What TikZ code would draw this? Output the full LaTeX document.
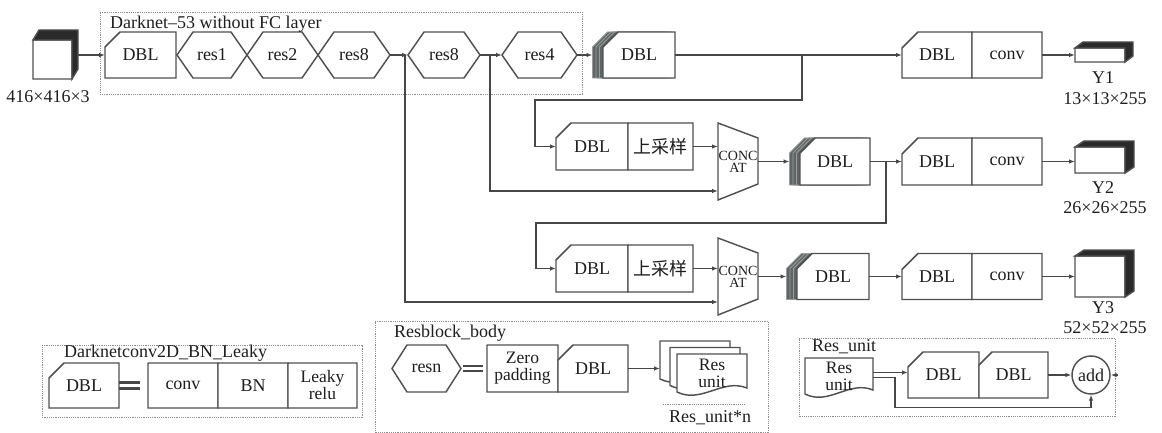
\documentclass[tikz,border=0pt]{standalone}
\usepackage{fontspec}
\setmainfont{Liberation Serif}
\newfontfamily\cjk{Noto Sans CJK SC}
\usetikzlibrary{arrows.meta,calc,backgrounds}
\definecolor{lc}{HTML}{474747}
\definecolor{bc}{HTML}{505050}
\definecolor{txt}{HTML}{1E1E1E}
\definecolor{fc}{HTML}{8C8C8C}
\definecolor{cubec}{HTML}{2A2A2A}
\definecolor{sc}{HTML}{5E6666}
\tikzset{
 ln/.style={draw=lc, line width=1.1pt},
 arr/.style={ln, -{Latex[length=6pt,width=4.5pt]}},
 boxln/.style={draw=bc, line width=1.45pt, line join=miter},
 blk/.style={minimum width=#1, minimum height=46pt, inner sep=0pt, outer sep=0pt, text=txt, align=center},
 tall/.style={minimum height=#1},
 dframe/.style={draw=fc, line width=0.9pt, dash pattern=on 1.2pt off 1pt},
 lbl/.style={inner sep=0pt, text=txt},
 eqbar/.style={draw=lc, line width=2.4pt},
 two/.style={font=\fontsize{17.5}{17}\selectfont},
 cc/.style={font=\fontsize{14}{12}\selectfont},
}
\newcommand\chamf[2]{\begin{scope}[on background layer]\draw[boxln, fill=white] ($(#1.north west)+(#2,0)$) -- (#1.north east) -- (#1.south east) -- (#1.south west) -- ($(#1.north west)+(0,#2)$) -- cycle;\end{scope}}
\newcommand\rbox[1]{\chamf{#1}{0.5}}
\newcommand\hexa[2]{\begin{scope}[on background layer]\draw[boxln, fill=white] (#1.west) -- ($(#1.north west)+(#2,0)$) -- ($(#1.north east)+(-#2,0)$) -- (#1.east) -- ($(#1.south east)+(-#2,0)$) -- ($(#1.south west)+(#2,0)$) -- cycle;\end{scope}}
\newcommand\stk[2]{\begin{scope}[on background layer]
 \foreach \s in {10.5,7,3.5}{\draw[draw=lc!55, line width=0.8pt, fill=sc] ($(#1.north west)+(#2-\s,0)$) -- ($(#1.north east)+(-\s,0)$) -- ($(#1.south east)+(-\s,0)$) -- ($(#1.south west)+(-\s,0)$) -- ($(#1.north west)+(-\s,#2)$) -- cycle;}
 \draw[boxln, fill=white] ($(#1.north west)+(#2,0)$) -- (#1.north east) -- (#1.south east) -- (#1.south west) -- ($(#1.north west)+(0,#2)$) -- cycle;
 \end{scope}}
\newcommand\concat[1]{\begin{scope}[on background layer]\draw[boxln, fill=white] (#1.north west) -- ($(#1.north east)+(0,15)$) -- ($(#1.south east)+(0,-16)$) -- (#1.south west) -- cycle;\end{scope}}
\newcommand\cubeit[3]{\begin{scope}[on background layer]
 \draw[boxln, fill=white] ($(#1.north west)+(0.5,0)$) -- (#1.north east) -- (#1.south east) -- (#1.south west) -- ($(#1.north west)+(0,0.5)$) -- cycle;
 \draw[boxln, fill=cubec] (#1.north west) -- ++(#2,-#3) -- ($(#1.north east)+(#2,-#3)$) -- ($(#1.south east)+(#2,-#3)$) -- (#1.south east) -- (#1.north east) -- cycle;
 \end{scope}}
\newcommand\docit[1]{\begin{scope}[on background layer]\draw[boxln, fill=white] (#1.north west) -- (#1.north east) -- ($(#1.south east)+(0,-4)$) .. controls ($(#1.south east)!0.35!(#1.south west)+(0,-14)$) and ($(#1.south east)!0.65!(#1.south west)+(0,12)$) .. (#1.south west) -- cycle;\end{scope}}
\begin{document}
\begin{tikzpicture}[x=1pt,y=-1pt, font=\fontsize{18}{19}\selectfont]
\useasboundingbox (0,0) rectangle (1162,433);
% ---------- frames
\draw[dframe] (100,12) -- (582,12) -- (582,94) -- (100,94) -- cycle;
\node[lbl, anchor=west] (f1l) at (110,24) {Darknet–53 without FC layer};
% ---------- row 1
\node[blk=39pt, tall=39pt] (cube) at (52.5,59.5) {};
\cubeit{cube}{6}{10}
\node[lbl] (cubel) at (48,97) {416×416×3};
\node[blk=71pt] (d0) at (140.5,55) {DBL}; \chamf{d0}{15}
\node[blk=70pt] (r1) at (212,55) {res1}; \hexa{r1}{16}
\node[blk=71pt] (r2) at (282.5,55) {res2}; \hexa{r2}{16}
\node[blk=72pt] (r3) at (354,55) {res8}; \hexa{r3}{16}
\node[blk=72pt] (r4) at (444,55) {res8}; \hexa{r4}{16}
\node[blk=75pt] (r5) at (539.5,55) {res4}; \hexa{r5}{16}
\node[blk=72pt] (s1) at (639,55) {DBL}; \stk{s1}{15}
\node[blk=70pt] (d1) at (937,55) {DBL}; \chamf{d1}{16}
\node[blk=70pt] (v1) at (1007,55) {conv}; \rbox{v1}
\node[blk=50pt, tall=14pt] (y1) at (1100,55) {}; \cubeit{y1}{8}{6}
\node[lbl] (y1a) at (1103,78) {Y1};
\node[lbl] (y1b) at (1105,99) {13×13×255};
% ---------- row 2
\node[blk=72pt, tall=47pt] (u1) at (592,146.5) {DBL}; \chamf{u1}{15}
\node[blk=65pt, tall=47pt] (p1) at (660.5,146.5) {\cjk 上采样}; \rbox{p1}
\node[blk=40pt, tall=77pt, cc] (c1) at (738,161.5) {CONC\\AT}; \concat{c1}
\node[blk=70pt, tall=47pt] (s2) at (835,161.5) {DBL}; \stk{s2}{15}
\node[blk=70pt, tall=47pt] (d2) at (937,161.5) {DBL}; \chamf{d2}{16}
\node[blk=70pt, tall=47pt] (v2) at (1007,161.5) {conv}; \rbox{v2}
\node[blk=50pt, tall=26pt] (y2) at (1100,160) {}; \cubeit{y2}{9}{6}
\node[lbl] (y2a) at (1103,188) {Y2};
\node[lbl] (y2b) at (1105,208) {26×26×255};
% ---------- row 3
\node[blk=72pt, tall=47pt] (u2) at (592,268.5) {DBL}; \chamf{u2}{15}
\node[blk=65pt, tall=47pt] (p2) at (660.5,268.5) {\cjk 上采样}; \rbox{p2}
\node[blk=40pt, tall=77pt, cc] (c2) at (738,276.5) {CONC\\AT}; \concat{c2}
\node[blk=72pt, tall=46pt] (s3) at (833,276.5) {DBL}; \stk{s3}{15}
\node[blk=70pt, tall=46pt] (d3) at (937,276.5) {DBL}; \chamf{d3}{16}
\node[blk=70pt, tall=46pt] (v3) at (1007,276.5) {conv}; \rbox{v3}
\node[blk=50pt, tall=41pt] (y3) at (1100,276.5) {}; \cubeit{y3}{9}{6}
\node[lbl] (y3a) at (1103,308) {Y3};
\node[lbl] (y3b) at (1105,328) {52×52×255};
% ---------- connectors
\draw[arr] ($(cube.east |- d0.west)+(6,0)$) -- (d0.west);
\draw[arr] (r3.east) -- (r4.west);
\coordinate (j1) at ($(r4.west)+(-3,0)$);
\draw[arr] (j1) |- ($(c2.south west)+(0,-13)$);
\draw[arr] (r4.east) -- (r5.west);
\coordinate (j2) at ($(r4.east)+(10,0)$);
\draw[arr] (j2) |- ($(c1.south west)+(0,-9)$);
\draw[arr, shorten >=10.5pt] (r5.east) -- (s1.west);
\draw[arr] (s1.east) -- (d1.west);
\coordinate (j3) at ($(s1.east)+(127,0)$);
\draw[arr] (j3) -- ++(0,45) -| ($(u1.west)+(-21,0)$) -- (u1.west);
\draw[arr] (p1.east) -- (p1.east -| c1.west);
\draw[arr, shorten >=10.5pt] (c1.east) -- (s2.west);
\draw[arr] (s2.east) -- (d2.west);
\coordinate (j4) at ($(s2.east)+(16,0)$);
\draw[arr] (j4) -- ++(0,61.5) -| ($(u2.west)+(-20,0)$) -- (u2.west);
\draw[arr] (p2.east) -- (p2.east -| c2.west);
\draw[arr, shorten >=10.5pt] (c2.east) -- (s3.west);
\draw[arr] (s3.east) -- (d3.west);
\draw[arr] (v1.east) -- (y1.west);
\draw[arr] (v2.east) -- (v2.east -| y2.west);
\draw[arr] (v3.east) -- (y3.west);
% ---------- legend 1
\draw[dframe] (42,345) -- (362,345) -- (362,417) -- (42,417) -- cycle;
\node[lbl, anchor=west] (f2l) at (64,353) {Darknetconv2D\_BN\_Leaky};
\node[blk=70pt, tall=45pt] (ld) at (84,385.5) {DBL}; \chamf{ld}{15}
\node[blk=70pt, tall=45pt] (lcv) at (183,385.5) {conv}; \rbox{lcv}
\node[blk=70pt, tall=45pt] (lbn) at (253,385.5) {BN}; \rbox{lbn}
\node[blk=69pt, tall=45pt, two] (lrl) at (322.5,385.5) {Leaky\\relu}; \rbox{lrl}
\draw[eqbar] ($(ld.east)+(0,-3)$) -- ($(lcv.west)+(-8,-3)$);
\draw[eqbar] ($(ld.east)+(0,3)$) -- ($(lcv.west)+(-8,3)$);
% ---------- legend 2
\draw[dframe] (375,321) -- (768,321) -- (768,432) -- (375,432) -- cycle;
\node[lbl, anchor=west] (f3l) at (394,333) {Resblock\_body};
\node[blk=69pt, tall=47pt] (rn) at (426.5,368.5) {resn}; \hexa{rn}{15}
\node[blk=71pt, tall=47pt, two] (zp) at (522.5,368.5) {Zero\\padding}; \rbox{zp}
\node[blk=70pt, tall=47pt] (ldb) at (593,368.5) {DBL}; \chamf{ldb}{15}
\draw[eqbar] ($(rn.east)+(2,-2.5)$) -- ($(zp.west)+(-4,-2.5)$);
\draw[eqbar] ($(rn.east)+(2,2.5)$) -- ($(zp.west)+(-4,2.5)$);
\node[blk=70pt, tall=38pt] (rb) at (695,360) {}; \docit{rb}
\node[blk=70pt, tall=38pt] (rm) at (705,366.5) {}; \docit{rm}
\node[blk=70pt, tall=38pt, two] (ru) at (712,373) {Res\\unit}; \docit{ru}
\draw[arr] (ldb.east) -- (ldb.east -| rb.west);
\draw[dframe] ($(ru.south west)+(-14,12)$) -- ($(ru.south east)+(-2,12)$);
\node[lbl] (run) at (710,418) {Res\_unit*n};
% ---------- legend 3
\draw[dframe] (799,338) -- (1115,338) -- (1115,416) -- (799,416) -- cycle;
\node[lbl, anchor=west] (f4l) at (812,347) {Res\_unit};
\node[blk=68pt, tall=36pt, two] (rd) at (839,376) {Res\\unit}; \docit{rd}
\node[blk=71pt, tall=46pt] (ld1) at (943.5,375) {DBL}; \chamf{ld1}{15}
\node[blk=69pt, tall=46pt] (ld2) at (1013.5,375) {DBL}; \chamf{ld2}{13}
\node[circle, draw=bc, line width=1.45pt, minimum size=38pt, inner sep=0pt, text=txt] (add) at (1091,375) {add};
\draw[arr] ($(rd.east)+(0,-3.5)$) -- ($(ld1.west)+(0,-2.5)$);
\draw[arr] ($(rd.east)+(0,1.5)$) -- ++(22,0) |- ($(add.south)+(0,13)$) -- (add.south);
\draw[arr] (ld2.east) -- (add.west);
\draw[arr] ($(add.east)+(7,0)$) -- (add.east);
\end{tikzpicture}
\end{document}
